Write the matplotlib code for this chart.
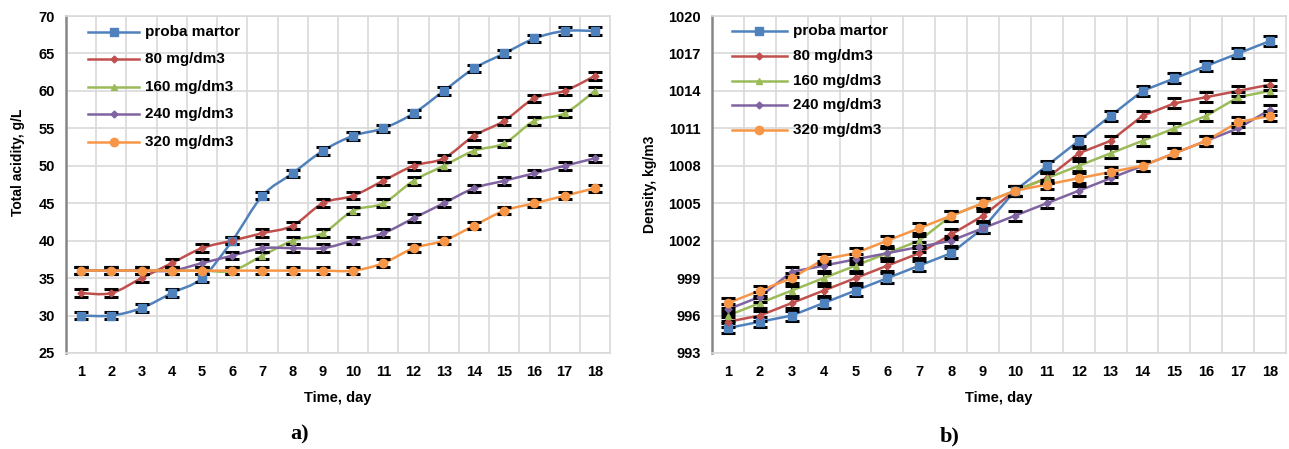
import numpy as np
import matplotlib
matplotlib.use("Agg")
import matplotlib.pyplot as plt
from matplotlib.path import Path
from matplotlib.patches import PathPatch
from matplotlib.lines import Line2D

plt.rcParams['font.family'] = ['Liberation Sans', 'DejaVu Sans']

days = list(range(1, 19))
series_names = ["proba martor", "80 mg/dm3", "160 mg/dm3", "240 mg/dm3", "320 mg/dm3"]

acid_control = [30, 30, 31, 33, 35, 40, 46, 49, 52, 54, 55, 57, 60, 63, 65, 67, 68, 68]
acid_80 = [33, 33, 35, 37, 39, 40, 41, 42, 45, 46, 48, 50, 51, 54, 56, 59, 60, 62]
acid_160 = [36, 36, 36, 36, 36, 36, 38, 40, 41, 44, 45, 48, 50, 52, 53, 56, 57, 60]
acid_240 = [36, 36, 36, 36, 37, 38, 39, 39, 39, 40, 41, 43, 45, 47, 48, 49, 50, 51]
acid_320 = [36, 36, 36, 36, 36, 36, 36, 36, 36, 36, 37, 39, 40, 42, 44, 45, 46, 47]

dens_control = [995, 995.5, 996, 997, 998, 999, 1000, 1001, 1003, 1006, 1008, 1010, 1012, 1014, 1015, 1016, 1017, 1018]
dens_80 = [995.5, 996, 997, 998, 999, 1000, 1001, 1002.5, 1004, 1006, 1007, 1009, 1010, 1012, 1013, 1013.5, 1014, 1014.5]
dens_160 = [996, 997, 998, 999, 1000, 1001, 1002, 1004, 1005, 1006, 1007, 1008, 1009, 1010, 1011, 1012, 1013.5, 1014]
dens_240 = [996.5, 997.5, 999.5, 1000, 1000.5, 1001, 1001.5, 1002, 1003, 1004, 1005, 1006, 1007, 1008, 1009, 1010, 1011, 1012.5]
dens_320 = [997, 998, 999, 1000.5, 1001, 1002, 1003, 1004, 1005, 1006, 1006.5, 1007, 1007.5, 1008, 1009, 1010, 1011.5, 1012]

acid_err = 0.5
dens_err = 0.4

colors = ["#4F81BD", "#C0504D", "#9BBB59", "#8064A2", "#F79646"]
markers = ["s", "D", "^", "D", "o"]
msizes = [6, 3.5, 5, 3.5, 6]

W, H = 1289, 449
fig = plt.figure(figsize=(W / 100, H / 100), dpi=100)


def smooth_path(x, y):
    """Cubic Bezier path through the points (Catmull-Rom style smoothing)."""
    x = np.asarray(x, float)
    y = np.asarray(y, float)
    pts = np.column_stack([x, y])
    n = len(pts)
    verts = [pts[0]]
    codes = [Path.MOVETO]
    for i in range(n - 1):
        p0 = pts[i - 1] if i > 0 else pts[i]
        p1 = pts[i]
        p2 = pts[i + 1]
        p3 = pts[i + 2] if i + 2 < n else pts[i + 1]
        c1 = p1 + (p2 - p0) / 6.0
        c2 = p2 - (p3 - p1) / 6.0
        verts += [c1, c2, p2]
        codes += [Path.CURVE4] * 3
    return Path(verts, codes)


def panel(rect, data, err, ylim, ystep, ylabel, ylabel_xy, smooth, legend_pos, legend_gap):
    ax = fig.add_axes(rect)
    ax.set_xlim(0.5, 18.5)
    ax.set_ylim(*ylim)
    ax.set_yticks(np.arange(ylim[0], ylim[1] + 0.01, ystep))
    ax.set_xticks(days)
    ax.set_xticks(np.arange(1.5, 18, 1), minor=True)
    ax.grid(True, which='minor', axis='x', color='#D9D9D9', lw=1.2)
    ax.grid(True, which='major', axis='y', color='#D9D9D9', lw=1.2)
    ax.set_axisbelow(True)
    ax.tick_params(which='both', length=0)
    ax.tick_params(axis='x', pad=9, labelsize=10.5)
    ax.tick_params(axis='y', pad=8, labelsize=10.5)
    for lab in ax.get_xticklabels() + ax.get_yticklabels():
        lab.set_fontweight('bold')
    for s in ['top', 'right', 'bottom']:
        ax.spines[s].set_color('#D9D9D9')
        ax.spines[s].set_linewidth(1.2)
    ax.spines['left'].set_color('#868686')
    ax.spines['left'].set_linewidth(1.8)
    ax.set_xlabel("Time, day", fontsize=10.5, fontweight='bold', labelpad=8)
    ax.set_ylabel(ylabel, fontsize=10, fontweight='bold')
    ax.yaxis.set_label_coords(*ylabel_xy)

    for vals, c, m, ms in zip(data, colors, markers, msizes):
        if smooth:
            ax.add_patch(PathPatch(smooth_path(days, vals), fc='none', ec=c, lw=1.8, zorder=3))
        else:
            ax.plot(days, vals, color=c, lw=1.8, zorder=3)
        ax.errorbar(days, vals, yerr=err, fmt='none', ecolor='black', elinewidth=1.5,
                    capsize=5, capthick=2.2, zorder=4)
        ax.plot(days, vals, ls='none', marker=m, ms=ms, color=c, zorder=5)

    # legend
    lx, ly = legend_pos
    for i, (name, c, m, ms) in enumerate(zip(series_names, colors, markers, msizes)):
        yy = ly - i * legend_gap
        ax.add_line(Line2D([lx, lx + 0.095], [yy, yy], transform=ax.transAxes, color=c, lw=1.8))
        ax.plot([lx + 0.0475], [yy], transform=ax.transAxes, marker=m, ms=ms, color=c,
                ls='none', clip_on=False)
        ax.text(lx + 0.106, yy, name, transform=ax.transAxes, fontsize=11,
                fontweight='bold', va='center', ha='left')
    return ax


axa = panel([66 / W, 1 - 353 / H, 544 / W, 337 / H],
            [acid_control, acid_80, acid_160, acid_240, acid_320], acid_err,
            (25, 70), 5, "Total acidity, g/L", (-0.075, 0.565), True, (0.04, 0.953), 0.0815)
axb = panel([712 / W, 1 - 353 / H, 574 / W, 337 / H],
            [dens_control, dens_80, dens_160, dens_240, dens_320], dens_err,
            (993, 1020), 3, "Density, kg/m3", (-0.095, 0.5), False, (0.035, 0.955), 0.0735)

fig.text(300 / W, 1 - 434 / H, "a)", fontsize=16, fontweight='bold',
         family=['Liberation Serif', 'DejaVu Serif'], ha='center', va='center')
fig.text(950 / W, 1 - 436 / H, "b)", fontsize=16, fontweight='bold',
         family=['Liberation Serif', 'DejaVu Serif'], ha='center', va='center')

fig.savefig("out.png", dpi=100)
